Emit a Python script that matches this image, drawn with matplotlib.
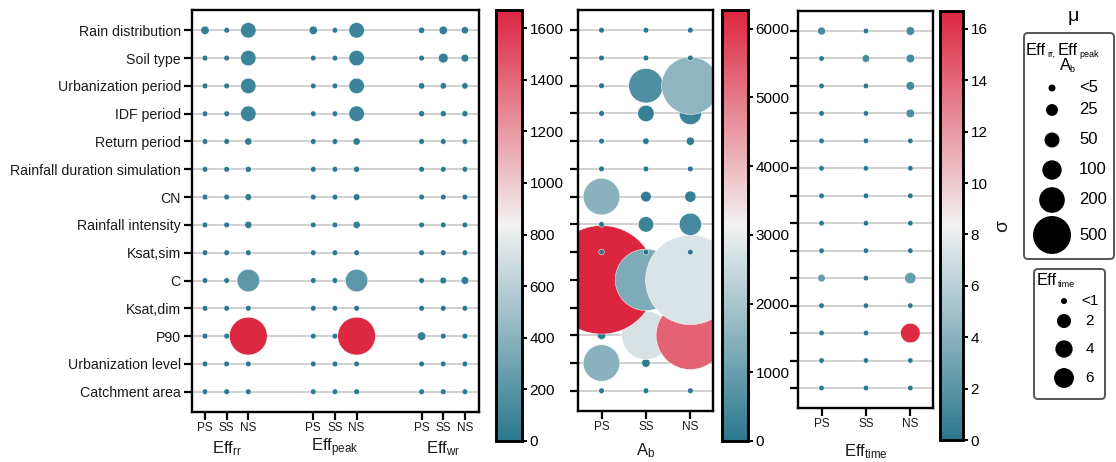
import numpy as np
import matplotlib
matplotlib.use("Agg")
import matplotlib.pyplot as plt
from matplotlib.colors import LinearSegmentedColormap, Normalize
from matplotlib.cm import ScalarMappable
from matplotlib.patches import FancyBboxPatch
from matplotlib.transforms import blended_transform_factory

plt.rcParams["font.family"] = ["Liberation Sans", "DejaVu Sans"]
plt.rcParams["mathtext.default"] = "regular"

# ---------------------------------------------------------------- data
factors = ["Rain distribution", "Soil type", "Urbanization period", "IDF period",
           "Return period", "Rainfall duration simulation", "CN",
           "Rainfall intensity", "Ksat,sim", "C", "Ksat,dim", "P90",
           "Urbanization level", "Catchment area"]
groups = ["PS", "SS", "NS"]
eff_names = ["Eff$_{rr}$", "Eff$_{peak}$", "Eff$_{wr}$"]

# mean (mu) per factor; columns = rr PS/SS/NS, peak PS/SS/NS, wr PS/SS/NS
mu_eff = [
    [13, 3, 69, 13, 3, 69, 5, 13, 8],
    [3, 3, 69, 3, 3, 69, 3, 20, 10],
    [3, 3, 69, 3, 3, 69, 5, 5, 5],
    [3, 3, 69, 3, 3, 69, 4, 4, 4],
    [3, 3, 8, 3, 3, 8, 3, 3, 3],
    [3, 3, 4, 3, 3, 4, 3, 3, 3],
    [3, 3, 6, 3, 3, 6, 3, 3, 3],
    [3, 3, 8, 3, 3, 8, 3, 3, 3],
    [3, 3, 3, 3, 3, 3, 3, 3, 3],
    [3, 3, 169, 3, 3, 169, 3, 6, 10],
    [3, 3, 3, 3, 3, 3, 3, 3, 3],
    [3, 3, 538, 3, 3, 538, 13, 3, 3],
    [3, 3, 3, 3, 3, 3, 3, 3, 3],
    [3, 3, 3, 3, 3, 3, 3, 3, 3],
]
# standard deviation (sigma), same layout
sigma_eff = [
    [40, 15, 90, 40, 15, 90, 30, 45, 35],
    [15, 15, 90, 15, 15, 90, 15, 55, 35],
    [15, 15, 85, 15, 15, 85, 25, 25, 25],
    [15, 15, 85, 15, 15, 85, 20, 20, 20],
    [10, 10, 35, 10, 10, 35, 10, 10, 10],
    [10, 10, 15, 10, 10, 15, 10, 10, 10],
    [10, 10, 25, 10, 10, 25, 10, 10, 10],
    [10, 10, 35, 10, 10, 35, 10, 10, 10],
    [10, 10, 10, 10, 10, 10, 10, 10, 10],
    [10, 10, 220, 10, 10, 220, 10, 25, 40],
    [10, 10, 10, 10, 10, 10, 10, 10, 10],
    [10, 10, 1660, 10, 10, 1660, 45, 10, 10],
    [10, 10, 10, 10, 10, 10, 10, 10, 10],
    [10, 10, 10, 10, 10, 10, 10, 10, 10],
]

# A_b: columns PS, SS, NS
mu_ab = [
    [3, 3, 3], [3, 3, 3], [3, 441, 1320], [3, 80, 165], [3, 5, 12],
    [3, 3, 3], [499, 25, 30], [3, 69, 164], [3, 3, 3], [4950, 1521, 3326],
    [3, 3, 3], [13, 920, 1906], [499, 13, 3], [3, 3, 3],
]
sigma_ab = [
    [20, 20, 20], [20, 20, 20], [20, 600, 1570], [20, 200, 300], [20, 60, 120],
    [20, 20, 20], [1500, 120, 180], [20, 300, 450], [20, 20, 20], [6250, 1300, 2760],
    [20, 20, 20], [120, 2700, 5330], [1500, 100, 20], [20, 20, 20],
]

# Eff_time: columns PS, SS, NS
mu_time = [
    [0.34, 0.02, 0.5], [0.02, 0.28, 0.5], [0.02, 0.02, 0.5], [0.02, 0.02, 0.5],
    [0.02, 0.02, 0.02], [0.02, 0.02, 0.02], [0.02, 0.02, 0.02], [0.02, 0.02, 0.02],
    [0.02, 0.02, 0.02], [0.28, 0.02, 1.4], [0.02, 0.02, 0.02], [0.02, 0.02, 7.0],
    [0.02, 0.02, 0.02], [0.02, 0.02, 0.02],
]
sigma_time = [
    [1.3, 0.1, 1.3], [0.1, 1.3, 1.3], [0.1, 0.1, 1.3], [0.1, 0.1, 1.5],
    [0.1, 0.1, 0.1], [0.1, 0.1, 0.1], [0.1, 0.1, 0.1], [0.1, 0.1, 0.1],
    [0.1, 0.1, 0.1], [2.5, 0.1, 2.6], [0.1, 0.1, 0.1], [0.1, 0.1, 16.5],
    [0.1, 0.1, 0.1], [0.1, 0.1, 0.1],
]

legend_main_mu = [3, 25, 50, 100, 200, 500]
legend_main_lbl = ["<5", "25", "50", "100", "200", "500"]
legend_time_mu = [0.0, 2, 4, 6]
legend_time_lbl = ["<1", "2", "4", "6"]

sigma_max = [1670, 6270, 16.7]

# ---------------------------------------------------------------- style
cmap = LinearSegmentedColormap.from_list(
    "tealred", ["#2a788e", "#f2f2f2", "#dc2640"])
PX = 0.72   # points per pixel at dpi=100


def size_main(mu):
    d = 3 + 1.5 * np.sqrt(np.asarray(mu, float))
    return (d * PX) ** 2


def size_time(mu):
    d = 4.6 + 8 * np.sqrt(np.asarray(mu, float) / 2)
    return (d * PX) ** 2


def style_axes(ax):
    for sp in ax.spines.values():
        sp.set_linewidth(1.7)
    ax.tick_params(axis="both", direction="out", length=6, width=1.6,
                   colors="black", labelcolor="#1a1a1a")
    ax.tick_params(axis="y", labelsize=10.2, pad=2)
    ax.tick_params(axis="x", labelsize=8.5, pad=1.5)


def draw_panel(ax, mu, sigma, xpos, size_fn, vmax, xlim):
    mu = np.asarray(mu, float)[::-1]          # bottom row first
    sigma = np.asarray(sigma, float)[::-1]
    n, m = mu.shape
    for y in range(n):
        ax.axhline(y, color="#cdcdcd", lw=1.3, zorder=0)
    xs = np.tile(xpos, n)
    ys = np.repeat(np.arange(n), m)
    ax.scatter(xs, ys, s=size_fn(mu.ravel()), c=sigma.ravel(), cmap=cmap,
               norm=Normalize(0, vmax), edgecolors="white", linewidths=0.35,
               zorder=2)
    ax.set_ylim(-0.73, n - 1 + 0.73)
    ax.set_xlim(*xlim)
    ax.set_yticks(np.arange(n))
    style_axes(ax)


def add_cbar(fig, rect, vmax, ticks):
    cax = fig.add_axes(rect)
    cb = fig.colorbar(ScalarMappable(norm=Normalize(0, vmax), cmap=cmap), cax=cax)
    cb.set_ticks(ticks)
    cb.outline.set_linewidth(2.1)
    cax.tick_params(length=3.5, width=1.4, labelsize=11, pad=2)
    return cb


W, H = 1116, 462


def rect(x0, y0, x1, y1):
    return [x0 / W, 1 - y1 / H, (x1 - x0) / W, (y1 - y0) / H]


fig = plt.figure(figsize=(W / 100, H / 100), dpi=100)

# ---- panel 1: Eff_rr / Eff_peak / Eff_wr
ax1 = fig.add_axes(rect(192, 10, 479, 412))
xpos1 = np.array([0, 1, 2, 5, 6, 7, 10, 11, 12])
draw_panel(ax1, mu_eff, sigma_eff, xpos1, size_main, sigma_max[0], (-0.6, 12.65))
ax1.set_yticklabels(factors[::-1])
ax1.set_xticks(xpos1)
ax1.set_xticklabels(groups * 3)
tr = blended_transform_factory(ax1.transData, ax1.transAxes)
for k, name in enumerate(eff_names):
    ax1.text(xpos1[3 * k + 1], -0.09, name, transform=tr, ha="center",
             va="center", fontsize=12, color="#1a1a1a")
add_cbar(fig, rect(496, 10, 522, 441), sigma_max[0], np.arange(0, 1601, 200))

# ---- panel 2: A_b
ax2 = fig.add_axes(rect(578, 10, 713, 411))
draw_panel(ax2, mu_ab, sigma_ab, np.arange(3), size_main, sigma_max[1], (-0.53, 2.51))
ax2.set_yticklabels([])
ax2.set_xticks(np.arange(3))
ax2.set_xticklabels(groups)
ax2.text(0.5, -0.1, "A$_b$", transform=ax2.transAxes, ha="center",
         va="center", fontsize=12, color="#1a1a1a")
add_cbar(fig, rect(722, 10, 748, 441), sigma_max[1], np.arange(0, 6001, 1000))

# ---- panel 3: Eff_time
ax3 = fig.add_axes(rect(798, 11, 933, 408))
draw_panel(ax3, mu_time, sigma_time, np.arange(3), size_time, sigma_max[2], (-0.53, 2.51))
ax3.set_yticklabels([])
ax3.set_xticks(np.arange(3))
ax3.set_xticklabels(groups)
ax3.text(0.5, -0.11, "Eff$_{time}$", transform=ax3.transAxes, ha="center",
         va="center", fontsize=12, color="#1a1a1a")
add_cbar(fig, rect(940, 11, 963, 440), sigma_max[2], np.arange(0, 17, 2))
fig.text(1003 / W, 1 - 226 / H, "σ", rotation=90, ha="center", va="center",
         fontsize=14, color="#1a1a1a")

# ---- size legends (drawn in pixel coordinates)
lg = fig.add_axes([0, 0, 1, 1], zorder=5)
lg.set_xlim(0, W)
lg.set_ylim(H, 0)
lg.axis("off")
for (x0, y0, x1, y1) in [(1024, 33, 1114, 259), (1034, 269, 1105, 399)]:
    lg.add_patch(FancyBboxPatch((x0, y0), x1 - x0, y1 - y0,
                                boxstyle="round,pad=0,rounding_size=4",
                                fc="white", ec="#555555", lw=1.4))
lg.text(1073, 21, "μ", ha="center", va="baseline", fontsize=14)
# headers with small subscripts, as in the original
for x, y, t, fs in [(1026, 55, "Eff", 12), (1047, 57, "rr,", 6.5),
                    (1058, 55, "Eff", 12), (1079, 57, "peak", 6.5),
                    (1060, 70, "A", 12), (1069, 72, "b", 6.5),
                    (1037, 285, "Eff", 12), (1058, 287, "time", 6.5)]:
    lg.text(x, y, t, ha="left", va="baseline", fontsize=fs)
main_y = [88, 110, 140, 170, 200, 235]
lg.scatter([1052] * len(main_y), main_y, s=size_main(legend_main_mu), c="black")
for y, t in zip(main_y, legend_main_lbl):
    lg.text(1079, y, t, ha="left", va="center", fontsize=12)
time_y = [301, 321, 349, 378]
lg.scatter([1064] * len(time_y), time_y, s=size_time(legend_time_mu), c="black")
for y, t in zip(time_y, legend_time_lbl):
    lg.text(1090, y, t, ha="center", va="center", fontsize=11)

fig.savefig("out.png", dpi=100)
